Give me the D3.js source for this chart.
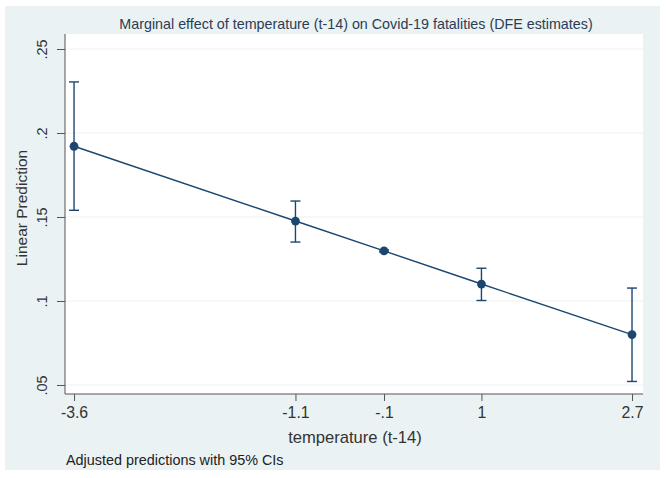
<!DOCTYPE html>
<html><head><meta charset="utf-8">
<script src="https://cdn.jsdelivr.net/npm/d3@7"></script>
<style>body{margin:0;background:#fff}svg{display:block}text{font-family:"Liberation Sans",Arial,sans-serif}</style>
</head><body><svg id="c" width="666" height="478"></svg>
<script>
const temps = [-3.6, -1.1, -0.1, 1, 2.7];
const tickLabels = ["-3.6", "-1.1", "-.1", "1", "2.7"];
const predictions = [0.1921, 0.1476, 0.1298, 0.1101, 0.0800];
const ciLow = [0.1540, 0.1351, 0.1292, 0.1003, 0.0521];
const ciHigh = [0.2304, 0.1595, 0.1304, 0.1195, 0.1077];
const yTicks = [0.05, 0.1, 0.15, 0.2, 0.25];
const yTickLabels = [".05", ".1", ".15", ".2", ".25"];

const svg = d3.select("#c");
const L = 65, R = 643, T = 34, B = 394;
const navy = "#1a476f";

svg.append("rect").attr("x", 5).attr("y", 6).attr("width", 655).attr("height", 464).attr("fill", "#eaf2f3");
svg.append("rect").attr("x", L).attr("y", T).attr("width", R - L).attr("height", B - T).attr("fill", "#fff");

const x = d3.scaleLinear().domain([-3.702, 2.824]).range([L, R]);
const y = d3.scaleLinear().domain([0.04464, 0.25893]).range([B, T]);

// gridlines
svg.append("g").selectAll("line").data(yTicks).join("line")
  .attr("x1", L).attr("x2", R).attr("y1", d => y(d)).attr("y2", d => y(d))
  .attr("stroke", "#eaf2f3").attr("stroke-width", 1);

// axes
const yAxis = d3.axisLeft(y).tickValues(yTicks).tickFormat((d, i) => yTickLabels[i]).tickSize(8).tickPadding(5);
const gy = svg.append("g").attr("transform", `translate(${L},0)`).call(yAxis);
gy.select(".domain").attr("stroke", "#555").attr("d", `M0,${T}V${B}`);
gy.selectAll(".tick line").attr("stroke", "#555");
gy.selectAll(".tick text").attr("transform", "rotate(-90,-18,0)")
  .attr("x", -18).attr("y", 0).attr("dy", "0").attr("text-anchor", "middle")
  .attr("font-size", 14.5).attr("fill", "#333");

const xAxis = d3.axisBottom(x).tickValues(temps).tickFormat((d, i) => tickLabels[i]).tickSize(7).tickPadding(5);
const gx = svg.append("g").attr("transform", `translate(0,${B})`).call(xAxis);
gx.select(".domain").attr("stroke", "#555").attr("d", `M${L},0H${R}`);
gx.selectAll(".tick line").attr("stroke", "#555");
gx.selectAll(".tick text").attr("y", 24).attr("dy", "0").attr("font-size", 15.8).attr("fill", "#333");

// CI bars
const ci = svg.append("g").attr("stroke", navy).attr("stroke-width", 1.4).attr("fill", "none");
temps.forEach((t, i) => {
  ci.append("line").attr("x1", x(t)).attr("x2", x(t)).attr("y1", y(ciLow[i])).attr("y2", y(ciHigh[i]));
  ci.append("line").attr("x1", x(t) - 5).attr("x2", x(t) + 5).attr("y1", y(ciLow[i])).attr("y2", y(ciLow[i]));
  ci.append("line").attr("x1", x(t) - 5).attr("x2", x(t) + 5).attr("y1", y(ciHigh[i])).attr("y2", y(ciHigh[i]));
});

// line
svg.append("path").datum(temps.map((t, i) => [t, predictions[i]]))
  .attr("d", d3.line().x(d => x(d[0])).y(d => y(d[1])))
  .attr("fill", "none").attr("stroke", navy).attr("stroke-width", 1.4);

// markers
svg.append("g").selectAll("circle").data(temps).join("circle")
  .attr("cx", d => x(d)).attr("cy", (d, i) => y(predictions[i])).attr("r", 4.4).attr("fill", navy);

// texts
svg.append("text").attr("x", 356).attr("y", 29).attr("text-anchor", "middle").attr("font-size", 14.3)
  .attr("fill", "#2a3d55").text("Marginal effect of temperature (t-14) on Covid-19 fatalities (DFE estimates)");
svg.append("text").attr("transform", "translate(27,208) rotate(-90)").attr("text-anchor", "middle")
  .attr("font-size", 15.5).attr("fill", "#333").text("Linear Prediction");
svg.append("text").attr("x", 355).attr("y", 443).attr("text-anchor", "middle").attr("font-size", 16.6)
  .attr("fill", "#333").text("temperature (t-14)");
svg.append("text").attr("x", 66).attr("y", 465).attr("font-size", 14.4).attr("fill", "#222")
  .text("Adjusted predictions with 95% CIs");
</script></body></html>
